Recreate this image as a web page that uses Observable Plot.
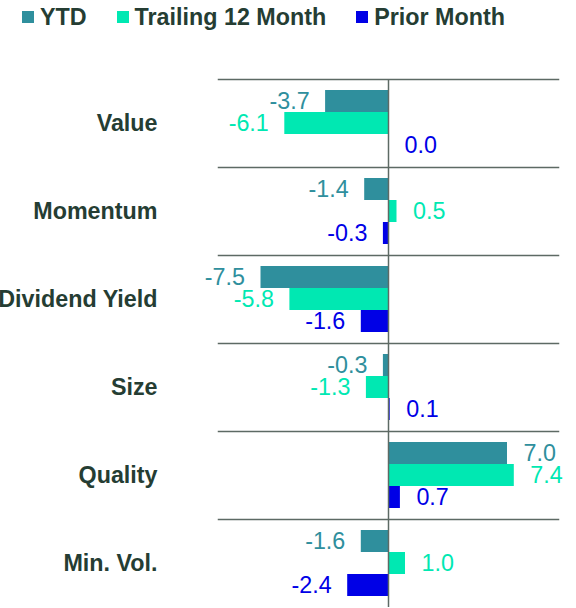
<!DOCTYPE html>
<html>
<head>
<meta charset="utf-8">
<script src="https://cdn.jsdelivr.net/npm/d3@7"></script>
<script src="https://cdn.jsdelivr.net/npm/@observablehq/plot@0.6"></script>
<style>
  html, body { margin: 0; padding: 0; background: #fff; overflow: hidden; }
  body { font-family: "Liberation Sans", Arial, sans-serif; width: 576px; height: 608px; }
  #legend { display: flex; align-items: center; height: 34px; padding-left: 22px; box-sizing: border-box;
            font-weight: bold; font-size: 23.3px; color: #253d33; }
  #legend .item { display: flex; align-items: center; margin-right: 30px; }
  #legend .sw { width: 12px; height: 12px; margin-right: 6px; }
  #chart svg { display: block; }
</style>
</head>
<body>
<div id="legend"></div>
<div id="chart"></div>
<script>
const categories = ["Value", "Momentum", "Dividend Yield", "Size", "Quality", "Min. Vol."];
const seriesNames = ["YTD", "Trailing 12 Month", "Prior Month"];
const seriesColors = ["#2f8f9d", "#00e8b2", "#0000e6"];
const ytd = [-3.7, -1.4, -7.5, -0.3, 7.0, -1.6];
const trailing12 = [-6.1, 0.5, -5.8, -1.3, 7.4, 1.0];
const priorMonth = [0.0, -0.3, -1.6, 0.1, 0.7, -2.4];

const seriesValues = [ytd, trailing12, priorMonth];
const rows = [];
categories.forEach((c, i) => {
  seriesNames.forEach((s, j) => rows.push({category: c, series: s, value: seriesValues[j][i]}));
});

// legend
const legend = document.getElementById("legend");
seriesNames.forEach((s, j) => {
  const item = document.createElement("div");
  item.className = "item";
  const sw = document.createElement("span");
  sw.className = "sw";
  sw.style.background = seriesColors[j];
  const t = document.createElement("span");
  t.textContent = s;
  item.appendChild(sw);
  item.appendChild(t);
  legend.appendChild(item);
});

const lineColor = "#5d6a64";
const neg = rows.filter(d => d.value < 0);
const pos = rows.filter(d => d.value >= 0);

const chart = Plot.plot({
  width: 576,
  height: 574,
  marginTop: 43,
  marginBottom: 0,
  marginLeft: 218,
  marginRight: 18,
  style: {fontFamily: '"Liberation Sans", Arial, sans-serif', background: "transparent"},
  x: {domain: [-10, 10], axis: null},
  y: {domain: seriesNames, paddingInner: 0, paddingOuter: 0.5, axis: null},
  fy: {domain: categories, padding: 0},
  color: {domain: seriesNames, range: seriesColors},
  marks: [
    Plot.frame({anchor: "top", stroke: lineColor, strokeWidth: 1.5}),
    Plot.barX(rows, {x: "value", y: "series", fy: "category", fill: "series"}),
    Plot.ruleX([0], {stroke: lineColor, strokeWidth: 1.5}),
    Plot.text(neg, {x: "value", y: "series", fy: "category", fill: "series",
      text: d => d.value.toFixed(1), textAnchor: "end", dx: -16, fontSize: 23.3}),
    Plot.text(pos, {x: "value", y: "series", fy: "category", fill: "series",
      text: d => d.value.toFixed(1), textAnchor: "start", dx: 16, fontSize: 23.3}),
    Plot.axisFy({anchor: "left", tickSize: 0, tickPadding: 61, label: null,
      fontSize: 23.3, fontWeight: "bold", fill: "#253d33"})
  ]
});
document.getElementById("chart").appendChild(chart);
</script>
</body>
</html>
